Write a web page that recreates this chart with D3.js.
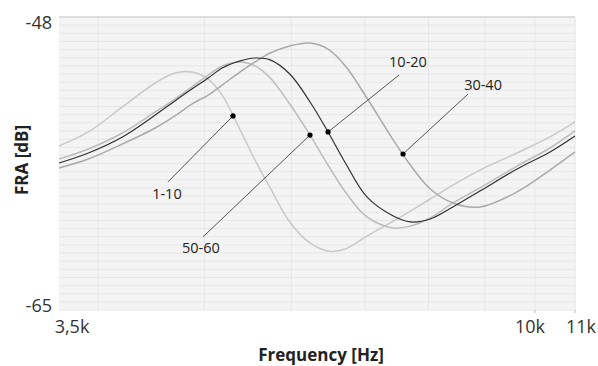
<!DOCTYPE html>
<html><head><meta charset="utf-8">
<script src="https://cdn.jsdelivr.net/npm/d3@7/dist/d3.min.js"></script>
<style>
html,body{margin:0;padding:0;background:#fff;}
svg{display:block;font-family:"Open Sans",sans-serif;}
</style></head>
<body><svg id="c" width="598" height="366"></svg>
<script>
// ---- data ----
const freqs = [3686, 3920, 4210, 4510, 4700, 4870, 5040, 5190, 5390, 5560, 5740, 5980, 6240, 6480, 6720, 7030, 7430, 7700, 8030, 8420, 8910, 9630, 10320, 10876];
const s1_10  = [-55.48,-54.67,-53.22,-51.83,-51.25,-51.19,-51.60,-52.53,-54.56,-56.30,-57.92,-59.89,-61.11,-61.58,-61.46,-60.71,-59.84,-59.26,-58.56,-57.75,-56.88,-55.89,-54.96,-54.09];
const s50_60 = [-56.24,-55.66,-54.73,-53.51,-52.76,-52.06,-51.37,-50.84,-50.61,-50.84,-51.54,-53.05,-54.85,-56.59,-58.15,-59.60,-60.24,-60.13,-59.66,-58.79,-57.92,-56.65,-55.60,-54.61];
const s10_20 = [-56.47,-55.89,-54.96,-53.69,-52.87,-52.18,-51.54,-50.96,-50.55,-50.38,-50.49,-51.31,-52.93,-54.67,-56.47,-58.44,-59.55,-59.89,-59.72,-59.02,-58.10,-56.82,-55.83,-54.90];
const s30_40 = [-56.76,-56.24,-55.37,-54.44,-53.74,-53.05,-52.53,-51.95,-51.19,-50.61,-50.09,-49.68,-49.51,-49.86,-50.84,-52.70,-55.14,-56.59,-57.98,-58.79,-59.02,-58.15,-56.88,-55.83];
const seriesNames = ["1-10", "50-60", "30-40", "10-20"];
const seriesValues = [s1_10, s50_60, s30_40, s10_20];
const seriesColors = ["#c9c9c9", "#bcbcbc", "#aaaaaa", "#303030"];
const seriesWidths = [1.5, 1.5, 1.5, 1.2];
// annotations: point on curve, end of leader line
const annoNames = ["1-10", "50-60", "10-20", "30-40"];
const annoPointF = [5309, 6239, 6480, 7583];
const annoPointV = [-53.74, -54.85, -54.67, -55.95];
const annoEndF = [4632, 4985, 7519, 8691];
const annoEndV = [-57.57, -60.76, -51.37, -52.47];
const annoLabelDx = [-1, -2, 9, 15];
const annoLabelDy = [12, 11, -14, -10];
const xDomain = [3686, 10876];
const yDomain = [-65, -48];
const xGrid = [4000, 5000, 6000, 7000, 8000, 9000, 10000];
const xTickVals = [3686, 10000, 10876];
const xTickLabels = ["3,5k", "10k", "11k"];
const xTickDx = [13, -5, 6];
const yTickVals = [-48, -65];
const yTickLabels = ["-48", "-65"];
const yGridCount = 36;

// ---- layout ----
const L = 59, R = 575, T = 17, B = 310;
const svg = d3.select("#c");
const x = d3.scaleLog().domain(xDomain).range([L, R]);
const y = d3.scaleLinear().domain(yDomain).range([B, T]);

svg.append("rect").attr("x", L).attr("y", T).attr("width", R - L).attr("height", B - T).attr("fill", "#f4f4f4");

const g = svg.append("g");
const yGrid = d3.range(yGridCount + 1).map(i => yDomain[0] + i * (yDomain[1] - yDomain[0]) / yGridCount);
g.selectAll(".hg").data(yGrid).join("line")
  .attr("x1", L).attr("x2", R).attr("y1", d => y(d)).attr("y2", d => y(d))
  .attr("stroke", "#e7e7e7").attr("stroke-width", 1);
g.selectAll(".vg").data(xGrid).join("line")
  .attr("x1", d => x(d)).attr("x2", d => x(d)).attr("y1", T).attr("y2", B)
  .attr("stroke", "#e7e7e7").attr("stroke-width", 1);
// top and right border
svg.append("line").attr("x1", L).attr("x2", R).attr("y1", T).attr("y2", T).attr("stroke", "#dedede").attr("stroke-width", 2);
svg.append("line").attr("x1", R).attr("x2", R).attr("y1", T).attr("y2", B).attr("stroke", "#e4e4e4").attr("stroke-width", 1);

// x tick marks
svg.selectAll(".xt").data([10000, 10876]).join("line")
  .attr("x1", d => x(d)).attr("x2", d => x(d)).attr("y1", B).attr("y2", B + 3)
  .attr("stroke", "#bbbbbb");

// curves
const line = d3.line().x((d, i) => x(freqs[i])).y(d => y(d)).curve(d3.curveCatmullRom.alpha(0.5));
svg.selectAll(".series").data(seriesValues).join("path")
  .attr("d", d => line(d)).attr("fill", "none")
  .attr("stroke", (d, i) => seriesColors[i]).attr("stroke-width", (d, i) => seriesWidths[i]);

// annotations
const anno = annoNames.map((n, i) => ({n, pf: annoPointF[i], pv: annoPointV[i], ef: annoEndF[i], ev: annoEndV[i], dx: annoLabelDx[i], dy: annoLabelDy[i]}));
svg.selectAll(".lead").data(anno).join("line")
  .attr("x1", d => x(d.pf)).attr("y1", d => y(d.pv)).attr("x2", d => x(d.ef)).attr("y2", d => y(d.ev))
  .attr("stroke", "#555").attr("stroke-width", 1);
svg.selectAll(".dot").data(anno).join("circle")
  .attr("cx", d => x(d.pf)).attr("cy", d => y(d.pv)).attr("r", 2.6).attr("fill", "#000");
svg.selectAll(".al").data(anno).join("text")
  .attr("x", d => x(d.ef) + d.dx).attr("y", d => y(d.ev) + d.dy)
  .attr("text-anchor", "middle").attr("dominant-baseline", "central")
  .attr("font-size", 14.5).attr("fill", "#222").text(d => d.n);

// axis labels
svg.selectAll(".xl").data(xTickVals).join("text")
  .attr("x", (d, i) => x(d) + xTickDx[i]).attr("y", 333)
  .attr("text-anchor", "middle").attr("font-size", 18).attr("fill", "#333")
  .text((d, i) => xTickLabels[i]);
svg.selectAll(".yl").data(yTickVals).join("text")
  .attr("x", 52).attr("y", (d, i) => y(d) + (i === 0 ? 5 : -5))
  .attr("text-anchor", "end").attr("dominant-baseline", "central")
  .attr("font-size", 18).attr("fill", "#333")
  .text((d, i) => yTickLabels[i]);

svg.append("text").attr("x", 321).attr("y", 361).attr("text-anchor", "middle")
  .attr("font-size", 17).attr("font-weight", "bold").attr("fill", "#222").text("Frequency [Hz]");
svg.append("text").attr("transform", "translate(28,160) rotate(-90)").attr("text-anchor", "middle")
  .attr("font-size", 17).attr("font-weight", "bold").attr("fill", "#222").text("FRA [dB]");
</script></body></html>
